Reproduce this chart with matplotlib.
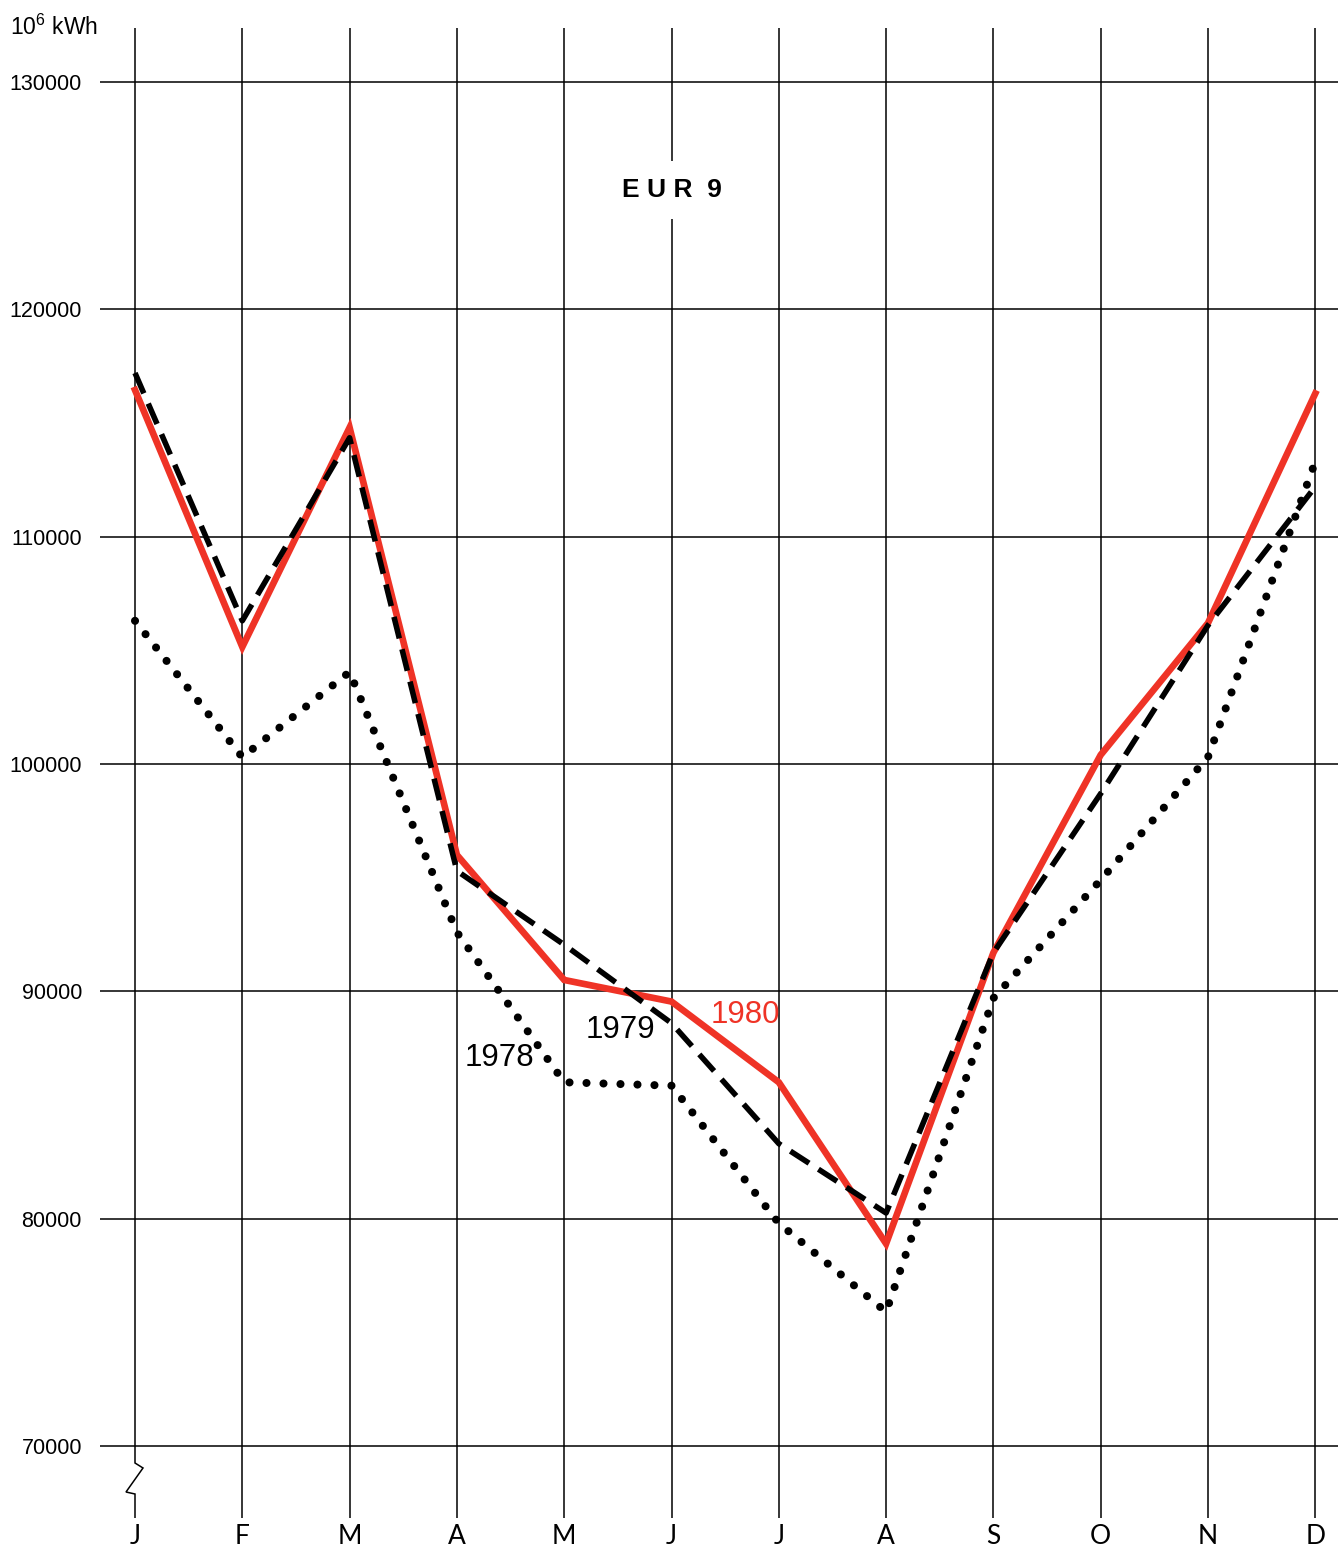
import numpy as np
import matplotlib
matplotlib.use("Agg")
import matplotlib.pyplot as plt

# =========================
# Data (10^6 kWh)
# =========================
months = ["J", "F", "M", "A", "M", "J", "J", "A", "S", "O", "N", "D"]
y1978 = [106300, 100300, 104050, 92600, 86000, 85850, 79800, 75900, 89700, 94900, 100300, 113300]
y1979 = [117200, 106300, 114350, 95300, 92050, 88600, 83300, 80250, 91700, 98700, 106100, 112200]
y1980 = [116450, 105150, 114800, 96000, 90500, 89550, 86000, 78900, 91700, 100400, 106200, 116300]
y_ticks = [70000, 80000, 90000, 100000, 110000, 120000, 130000]
title = "E U R  9"
unit = r"$\mathregular{10^6}$ kWh"

RED = "#ef3326"
W, H = 1341, 1553

fig = plt.figure(figsize=(W / 100, H / 100), dpi=100)
fig.patch.set_facecolor("white")

# axes placed in pixel terms of the reference
left_px, right_px, top_px, bot_px = 100, 1338, 28, 1518
ax = fig.add_axes([left_px / W, 1 - bot_px / H,
                   (right_px - left_px) / W, (bot_px - top_px) / H])

x = np.arange(len(months))
step_px = 107.3
ax.set_xlim(-(135 - left_px) / step_px, (right_px - 135) / step_px)
px_per_unit = (1446 - 82) / 60000
ax.set_ylim(70000 - (bot_px - 1446) / px_per_unit, 130000 + (82 - top_px) / px_per_unit)

for s in ax.spines.values():
    s.set_visible(False)

# grid
for yv in y_ticks:
    ax.axhline(yv, color="black", lw=1.1, zorder=1)
for xi in x[1:]:
    ax.axvline(xi, color="black", lw=1.1, zorder=1)

# January line with axis-break zigzag
dx = 1 / step_px
dy = 1 / px_per_unit
jx = [0, 0, 8 * dx, -9 * dx, 0, 0]
jy = [ax.get_ylim()[1], 70000 - 17 * dy, 70000 - 22 * dy, 70000 - 46 * dy,
      70000 - 48 * dy, ax.get_ylim()[0]]
ax.plot(jx, jy, color="black", lw=1.1, zorder=1, solid_joinstyle="miter")

# series
ax.plot(x, y1978, color="black", lw=5.8, linestyle=(0, (0.01, 2.1)),
        dash_capstyle="round", zorder=3)
ax.plot(x, y1980, color=RED, lw=4.8, zorder=4, solid_joinstyle="miter")
ax.plot(x, y1979, color="black", lw=4.0, linestyle=(0, (4.0, 2.0)), zorder=5)

# axis labels
ax.set_xticks(x)
ax.set_xticklabels(months, fontsize=19, family="Lato")
ax.set_yticks(y_ticks)
ax.set_yticklabels([str(v) for v in y_ticks], fontsize=15.5, family="Liberation Sans")
ax.tick_params(axis="x", length=0, pad=4)
ax.tick_params(axis="y", length=0, pad=13)

# texts
ax.text(5, 125250, title, ha="center", va="center", fontsize=19,
        fontweight="bold", family="Liberation Sans", zorder=6,
        bbox=dict(facecolor="white", edgecolor="none", pad=12))
ax.text(3.40, 87060, "1978", fontsize=22.5, family="Liberation Sans",
        ha="center", va="center", zorder=6)
ax.text(4.52, 88290, "1979", fontsize=22.5, family="Liberation Sans",
        ha="center", va="center", zorder=6)
ax.text(5.69, 88950, "1980", fontsize=22.5, family="Liberation Sans", color=RED,
        ha="center", va="center", zorder=6)
fig.text(10 / W, 1 - 35 / H, unit, fontsize=16.5, family="Liberation Sans",
         ha="left", va="baseline")

fig.savefig("out.png", dpi=100, facecolor="white")
